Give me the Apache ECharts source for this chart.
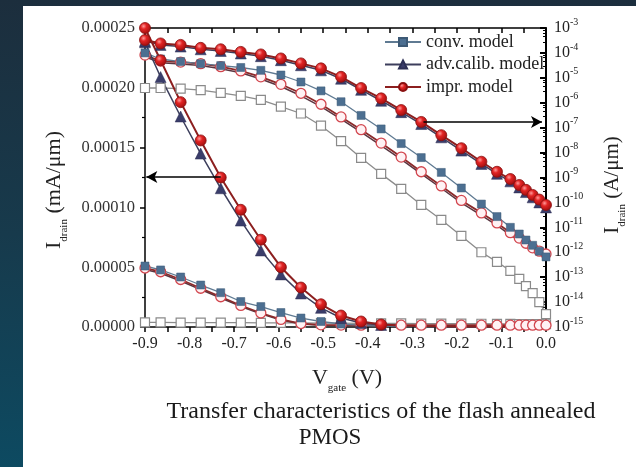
<!DOCTYPE html>
<html>
<head>
<meta charset="utf-8">
<script src="https://cdn.jsdelivr.net/npm/echarts@6/dist/echarts.min.js"></script>
<style>
  html, body { margin:0; padding:0; }
  body { width:636px; height:467px; overflow:hidden;
         background: linear-gradient(180deg, #1c2e3d 0%, #173a4c 50%, #0d4a61 100%); position:relative; }
  #panel { position:absolute; left:23px; top:6px; width:613px; height:461px; background:#fff; }
  #chart { position:absolute; left:0; top:0; width:636px; height:467px; }
</style>
</head>
<body>
<div id="panel"></div>
<div id="chart"></div>
<script>
// Gate voltage sample points (V)
const vgate = [-0.9, -0.865, -0.82, -0.775, -0.73, -0.685, -0.64, -0.595, -0.55, -0.505,
               -0.46, -0.415, -0.37, -0.325, -0.28, -0.235, -0.19, -0.145, -0.11, -0.08,
               -0.06, -0.045, -0.03, -0.015, 0.0];

// Linear scale (left axis, mA/um)
const imprLinFilled = [2.50e-4, 2.23e-4, 1.88e-4, 1.56e-4, 1.25e-4, 9.8e-5, 7.3e-5, 5.0e-5, 3.3e-5, 1.9e-5,
                       9.6e-6, 4.6e-6, 2.1e-6, 1.3e-6, 8e-7, 6e-7, 5e-7, 4e-7, 3e-7, 3e-7, 2e-7, 2e-7, 2e-7, 1e-7, 1e-7];
const advLinFilled  = [2.38e-4, 2.09e-4, 1.76e-4, 1.45e-4, 1.16e-4, 8.9e-5, 6.4e-5, 4.4e-5, 2.8e-5, 1.6e-5,
                       7.5e-6, 3.3e-6, 1.7e-6, 1.0e-6, 7e-7, 5e-7, 4e-7, 3e-7, 3e-7, 2e-7, 2e-7, 2e-7, 1e-7, 1e-7, 1e-7];
const convLinFilled = [5.1e-5, 4.77e-5, 4.18e-5, 3.51e-5, 2.87e-5, 2.13e-5, 1.71e-5, 1.21e-5, 7.5e-6, 4.6e-6,
                       2.5e-6, 1.3e-6, 7e-7, 5e-7, 4e-7, 3e-7, 3e-7, 2e-7, 2e-7, 2e-7, 1e-7, 1e-7, 1e-7, 1e-7, 1e-7];
const imprLinOpen   = [4.93e-5, 4.62e-5, 3.97e-5, 3.24e-5, 2.53e-5, 1.80e-5, 1.17e-5, 6.3e-6, 2.9e-6, 1.8e-6,
                       1.6e-6, 1.5e-6, 1.5e-6, 1.5e-6, 1.5e-6, 1.5e-6, 1.5e-6, 1.5e-6, 1.5e-6, 1.5e-6, 1.5e-6, 1.5e-6, 1.5e-6, 1.5e-6, 1.5e-6];
const advLinOpen    = [4.80e-5, 4.50e-5, 3.85e-5, 3.13e-5, 2.43e-5, 1.72e-5, 1.10e-5, 5.8e-6, 2.6e-6, 1.5e-6,
                       1.2e-6, 1.1e-6, 1.0e-6, 1.0e-6, 1.0e-6, 1.0e-6, 1.0e-6, 1.0e-6, 1.0e-6, 1.0e-6, 1.0e-6, 1.0e-6, 1.0e-6, 1.0e-6, 1.0e-6];
const convLinOpen   = [3.8e-6, 3.8e-6, 3.7e-6, 3.7e-6, 3.6e-6, 3.6e-6, 3.5e-6, 3.5e-6, 3.4e-6, 3.3e-6,
                       3.2e-6, 3.1e-6, 3.0e-6, 3.0e-6, 2.9e-6, 2.8e-6, 2.8e-6, 2.7e-6, 2.6e-6, 2.6e-6, 2.5e-6, 2.5e-6, 2.4e-6, 2.4e-6, 2.3e-6];

// Log scale (right axis, A/um)
const imprLogFilled = [3.3e-4, 2.4e-4, 2.1e-4, 1.6e-4, 1.4e-4, 1.1e-4, 8.7e-5, 6.0e-5, 3.8e-5, 2.4e-5,
                       1.1e-5, 3.9e-6, 1.5e-6, 5.1e-7, 1.7e-7, 5.0e-8, 1.5e-8, 4.3e-9, 1.7e-9, 8.7e-10,
                       5.0e-10, 3.2e-10, 2.0e-10, 1.3e-10, 7.9e-11];
const advLogFilled  = [3.0e-4, 2.1e-4, 1.8e-4, 1.4e-4, 1.2e-4, 9.5e-5, 7.4e-5, 5.1e-5, 3.2e-5, 2.0e-5,
                       9.2e-6, 3.3e-6, 1.2e-6, 4.2e-7, 1.4e-7, 4.1e-8, 1.2e-8, 3.5e-9, 1.4e-9, 7.0e-10,
                       4.0e-10, 2.6e-10, 1.6e-10, 1.0e-10, 6.3e-11];
const convLogFilled = [1.0e-4, 5.7e-5, 4.5e-5, 3.7e-5, 3.1e-5, 2.6e-5, 2.0e-5, 1.3e-5, 6.8e-6, 3.0e-6,
                       1.1e-6, 3.1e-7, 8.9e-8, 2.3e-8, 6.3e-9, 1.6e-9, 3.8e-10, 8.6e-11, 2.7e-11, 1.0e-11,
                       5.4e-12, 3.1e-12, 1.9e-12, 1.1e-12, 6.5e-13];
const imprLogOpen   = [8.2e-5, 4.7e-5, 4.3e-5, 3.7e-5, 2.8e-5, 1.9e-5, 1.1e-5, 5.5e-6, 2.4e-6, 8.7e-7,
                       2.7e-7, 8.3e-8, 2.4e-8, 6.6e-9, 1.7e-9, 4.6e-10, 1.2e-10, 3.8e-11, 1.5e-11, 6.1e-12,
                       3.7e-12, 2.3e-12, 1.5e-12, 1.1e-12, 8.5e-13];
const advLogOpen    = [7.0e-5, 4.0e-5, 3.6e-5, 3.1e-5, 2.3e-5, 1.6e-5, 9.0e-6, 4.5e-6, 1.9e-6, 7.0e-7,
                       2.2e-7, 6.6e-8, 1.9e-8, 5.3e-9, 1.4e-9, 3.7e-10, 9.6e-11, 3.0e-11, 1.2e-11, 4.9e-12,
                       3.0e-12, 1.8e-12, 1.2e-12, 8.8e-13, 6.8e-13];
const convLogOpen   = [3.9e-6, 3.9e-6, 3.7e-6, 3.2e-6, 2.5e-6, 1.9e-6, 1.3e-6, 7.0e-7, 3.7e-7, 1.2e-7,
                       2.9e-8, 6.1e-9, 1.4e-9, 3.5e-10, 7.9e-11, 2.0e-11, 4.5e-12, 1.0e-12, 4.1e-13, 1.8e-13,
                       8.5e-14, 4.4e-14, 2.3e-14, 1.0e-14, 3.3e-15];

const legendNames = ['conv. model', 'adv.calib. model', 'impr. model'];
const arrowLeft  = { from: [-0.73, 1.254e-4], to: [-0.897, 1.254e-4] };
const arrowRight = { from: [-0.275, 1.7e-7], to: [-0.009, 1.7e-7] };

const SERIF = '"Liberation Serif", "Times New Roman", serif';
const redBall = { type:'radial', x:0.38, y:0.35, r:0.7,
  colorStops:[{offset:0, color:'#ff9a9a'}, {offset:0.35, color:'#e22424'}, {offset:1, color:'#9a0c0c'}] };

// markers of the filled linear curves vanish into the axis once the current is ~0
const HIDE_BELOW = 1.5e-6;
function pts(arr, hideSmall){
  return vgate.map((x,i)=> (hideSmall && arr[i] < HIDE_BELOW)
    ? { value:[x, arr[i]], symbol:'none' } : [x, arr[i]]);
}
function mk(name, arr, yIdx, opt, hideSmall){
  return Object.assign({
    name, type:'line', xAxisIndex:0, yAxisIndex:yIdx, data: pts(arr, hideSmall),
    showAllSymbol:true, animation:false, clip:false
  }, opt);
}

const conv = { symbol:'rect', symbolSize:8, itemStyle:{color:'#4c6f91', borderColor:'#3d5a76', borderWidth:0.5},
               lineStyle:{color:'#5f7a92', width:1.3} };
const convO = { symbol:'rect', symbolSize:9, itemStyle:{color:'#ffffff', borderColor:'#8a8a8a', borderWidth:1.2},
               lineStyle:{color:'#8c8c8c', width:1.3} };
const adv = { symbol:'triangle', symbolSize:11, itemStyle:{color:'#3a3d6a', borderColor:'#2c2f55', borderWidth:0.5},
              lineStyle:{color:'#3c3e5c', width:1.5} };
const advO = { symbol:'none', lineStyle:{color:'#5a3540', width:1.5} };
const impr = { symbol:'circle', symbolSize:11, itemStyle:{color:redBall, borderColor:'#8a1010', borderWidth:0.8},
               lineStyle:{color:'#8c1f1f', width:2} };
const imprO = { symbol:'circle', symbolSize:10, itemStyle:{color:'#fff2f4', borderColor:'#d2464e', borderWidth:1.3},
               lineStyle:{color:'#8a2a2a', width:1.8} };

const arrowStyle = { silent:true, symbol:['none','arrow'], symbolSize:[9,11],
  lineStyle:{color:'#000', width:1.6, type:'solid'}, label:{show:false}, emphasis:{disabled:true} };

const series = [
  mk('conv open (lin)', convLinOpen, 0, convO),
  mk('conv open (log)', convLogOpen, 1, convO),
  mk('adv open (lin)', advLinOpen, 0, advO),
  mk('adv open (log)', advLogOpen, 1, advO),
  mk('impr open (lin)', imprLinOpen, 0, imprO),
  mk('impr open (log)', imprLogOpen, 1, imprO),
  mk('conv filled (lin)', convLinFilled, 0, conv, true),
  mk(legendNames[0], convLogFilled, 1, conv),
  mk('adv filled (lin)', advLinFilled, 0, adv, true),
  mk(legendNames[1], advLogFilled, 1, adv),
  mk('impr filled (lin)', imprLinFilled, 0, Object.assign({}, impr, {
    markLine: Object.assign({ data: [[{coord: arrowLeft.from}, {coord: arrowLeft.to}]] }, arrowStyle)
  }), true),
  mk(legendNames[2], imprLogFilled, 1, Object.assign({}, impr, {
    markLine: Object.assign({ data: [[{coord: arrowRight.from}, {coord: arrowRight.to}]] }, arrowStyle)
  }))
];

const axisLineStyle = { color:'#000', width:1.5 };
const chart = echarts.init(document.getElementById('chart'), null, {renderer:'canvas'});
chart.setOption({
  animation:false,
  backgroundColor:'transparent',
  grid:{ left:145, right:90, top:28, bottom:140, containLabel:false },
  legend:{
    data: legendNames, orient:'vertical', left:384, top:33, padding:0,
    itemWidth:36, itemHeight:10, itemGap:4.5, selectedMode:false,
    textStyle:{ fontFamily:SERIF, fontSize:18, color:'#222', lineHeight:17 }
  },
  xAxis:[
    { type:'value', position:'bottom', min:-0.9, max:0, interval:0.1,
      axisLine:{show:true, onZero:false, lineStyle:axisLineStyle},
      axisTick:{show:true, inside:false, length:5, lineStyle:{color:'#000', width:1.5}},
      minorTick:{show:true, splitNumber:2, length:5, lineStyle:{color:'#000', width:1.5}},
      splitLine:{show:false},
      axisLabel:{ margin:9, fontFamily:SERIF, fontSize:16, color:'#222',
                  formatter:v=>v.toFixed(1) } },
    { type:'value', position:'top', min:-0.9, max:0, interval:0.05,
      axisLine:{show:true, onZero:false, lineStyle:axisLineStyle},
      axisTick:{show:true, inside:true, length:5, lineStyle:{color:'#000', width:1.5}},
      splitLine:{show:false}, axisLabel:{show:false} }
  ],
  yAxis:[
    { type:'value', position:'left', min:0, max:0.00025, interval:0.00005,
      axisLine:{show:true, onZero:false, lineStyle:axisLineStyle},
      axisTick:{show:true, inside:false, length:5, lineStyle:{color:'#000', width:1.5}},
      minorTick:{show:true, splitNumber:2, length:3, lineStyle:{color:'#000', width:1.2}},
      splitLine:{show:false},
      axisLabel:{ margin:10, fontFamily:SERIF, fontSize:16.5, color:'#333', formatter:v=>v.toFixed(5) } },
    { type:'log', position:'right', logBase:10, min:1e-15, max:1e-3, interval:1,
      axisLine:{show:true, onZero:false, lineStyle:{color:'#000', width:2}},
      axisTick:{show:true, inside:true, length:6, lineStyle:{color:'#000', width:2}},
      minorTick:{show:true, splitNumber:5, length:3, lineStyle:{color:'#000', width:1}},
      splitLine:{show:false},
      axisLabel:{ margin:8, color:'#222',
        formatter:v=>'{b|10}{e|' + Math.round(Math.log10(v)) + '}',
        rich:{ b:{fontFamily:SERIF, fontSize:16, lineHeight:16, verticalAlign:'bottom'},
               e:{fontFamily:SERIF, fontSize:10, lineHeight:10, verticalAlign:'bottom', padding:[0,0,9,0]} } } }
  ],
  graphic:[
    { type:'text', x:59, y:190, rotation:Math.PI/2,
      style:{ text:'{m|I}{s|drain}{m| (mA/μm)}', textAlign:'center', textVerticalAlign:'middle', fill:'#222',
        rich:{ m:{fontFamily:SERIF, fontSize:22, lineHeight:22, verticalAlign:'bottom', padding:[0,0,5,0], fill:'#222'},
               s:{fontFamily:SERIF, fontSize:11, lineHeight:11, verticalAlign:'bottom', fill:'#222'} } } },
    { type:'text', x:617, y:185, rotation:Math.PI/2,
      style:{ text:'{m|I}{s|drain}{m| (A/μm)}', textAlign:'center', textVerticalAlign:'middle', fill:'#222',
        rich:{ m:{fontFamily:SERIF, fontSize:21, lineHeight:21, verticalAlign:'bottom', padding:[0,0,5,0], fill:'#222'},
               s:{fontFamily:SERIF, fontSize:11, lineHeight:11, verticalAlign:'bottom', fill:'#222'} } } },
    { type:'text', x:347, y:383,
      style:{ text:'{m|V}{s|gate}{m| (V)}', textAlign:'center', textVerticalAlign:'middle', fill:'#222',
        rich:{ m:{fontFamily:SERIF, fontSize:22, lineHeight:22, verticalAlign:'bottom', padding:[0,0,5,0], fill:'#222'},
               s:{fontFamily:SERIF, fontSize:11, lineHeight:11, verticalAlign:'bottom', fill:'#222'} } } },
    { type:'text', x:381, y:412,
      style:{ text:'Transfer characteristics of the flash annealed', textAlign:'center', textVerticalAlign:'middle',
        fontFamily:SERIF, fontSize:24, fill:'#1a1a1a' } },
    { type:'text', x:330, y:438,
      style:{ text:'PMOS', textAlign:'center', textVerticalAlign:'middle',
        fontFamily:SERIF, fontSize:23, fill:'#1a1a1a' } }
  ],
  series: series
});
</script>
</body>
</html>
